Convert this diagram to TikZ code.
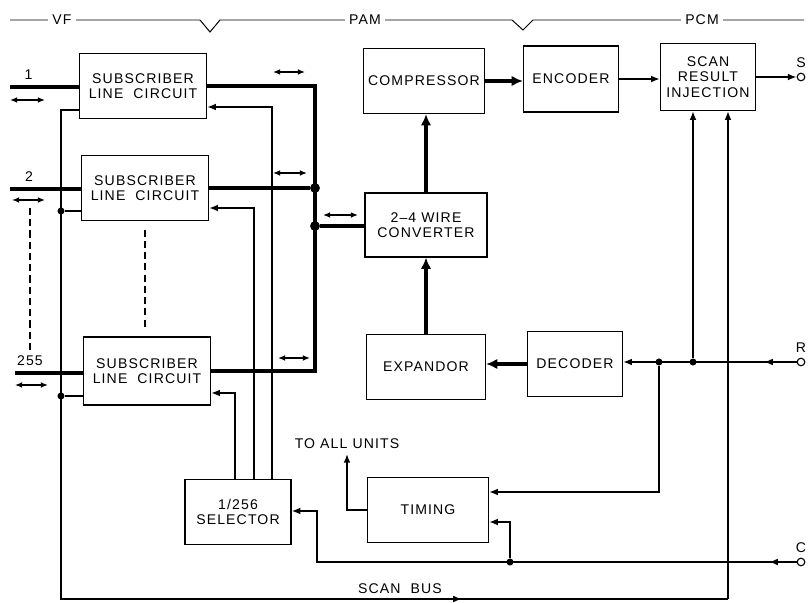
\documentclass[tikz,border=0pt]{standalone}
\usepackage{fontspec}
\setmainfont{Liberation Sans}[LetterSpace=8]
\usetikzlibrary{arrows.meta}

\begin{document}
\begin{tikzpicture}[x=0.025cm, y=-0.025cm,
    font=\fontsize{10}{11}\selectfont,
    block/.style={draw, rectangle, line width=0.8pt, align=center, minimum height=1.625cm, inner sep=2pt},
    sig/.style={line width=1.2pt},
    bus/.style={line width=3.3pt},
    arr/.style={-{Latex[length=2.2mm, width=1.7mm]}},
    barr/.style={-{Latex[length=2.8mm, width=2.6mm]}},
    twoway/.style={line width=1.1pt, {Latex[length=1.8mm, width=1.5mm]}-{Latex[length=1.8mm, width=1.5mm]}},
    jdot/.style={circle, fill, inner sep=0pt, minimum size=5pt},
    bdot/.style={circle, fill, inner sep=0pt, minimum size=7pt},
    term/.style={circle, draw, line width=0.8pt, fill=white, inner sep=0pt, minimum size=1.9mm}]
    \useasboundingbox (0,0) rectangle (812,603);

    % Signal ranges
    \draw[line width=0.7pt] (10,20) -- (200,20) -- (210,32) -- (220,20) -- (512,20) -- (523,30) -- (533,20) -- (804,20);
    \node[fill=white, inner sep=3pt] (vf) at (62,20) {VF};
    \node[fill=white, inner sep=3pt] (pam) at (365,20) {PAM};
    \node[fill=white, inner sep=3pt] (pcm) at (702,20) {PCM};

    % Subscriber line circuits
    \node[block, minimum width=3.175cm] (slc1) at (143,86) {SUBSCRIBER\\LINE\ \ CIRCUIT};
    \node[block, minimum width=3.175cm] (slc2) at (145,188) {SUBSCRIBER\\LINE\ \ CIRCUIT};
    \node[block, minimum width=3.175cm, minimum height=1.7cm] (slc3) at (147,371) {SUBSCRIBER\\LINE\ \ CIRCUIT};

    % Selector and timing
    \node[block, minimum width=2.65cm] (sel) at (238,512) {1/256\\SELECTOR};
    \node[block, minimum width=3.025cm] (tim) at (428,510) {TIMING};
    \node (units) at (347,444) {TO ALL UNITS};

    % PAM and PCM blocks
    \node[block, minimum width=3.025cm] (comp) at (424,81) {COMPRESSOR};
    \node[block, minimum width=3.05cm, minimum height=1.6cm] (conv) at (426,225) {2--4 WIRE\\CONVERTER};
    \node[block, minimum width=2.975cm] (exp) at (426,367) {EXPANDOR};
    \node[block, minimum width=2.375cm, minimum height=1.65cm] (enc) at (571,79) {ENCODER};
    \node[block, minimum width=2.375cm] (dec) at (575,364) {DECODER};
    \node[block, minimum width=2.375cm, minimum height=1.675cm] (sri) at (708,77) {SCAN\\RESULT\\INJECTION};

    % Terminals
    \node[term, label=above:S] (ts) at (801,77) {};
    \node[term, label=above:R] (tr) at (801,362) {};
    \node[term, label=above:C] (tc) at (801,562) {};

    % Subscriber lines
    \coordinate (in1) at (10,87);
    \coordinate (in2) at (10,189);
    \coordinate (in3) at (15,373);
    \draw[bus] (in1) -- (in1 -| slc1.west) node[pos=0.27, above] {1};
    \draw[bus] (in2) -- (in2 -| slc2.west) node[pos=0.27, above] {2};
    \draw[bus] (in3) -- (in3 -| slc3.west) node[pos=0.22, above] {255};
    \draw[twoway] (10,100) -- (45,100);
    \draw[twoway] (12,200) -- (45,200);
    \draw[twoway] (15,385) -- (48,385);
    \draw[line width=0.8pt, dash pattern=on 5pt off 3pt] (30,208) -- (30,352);
    \draw[line width=0.8pt, dash pattern=on 5pt off 3pt, shorten <=6pt, shorten >=6pt] (slc2.south) -- (slc2.south |- slc3.north);

    % 2-wire bus to converter
    \draw[bus] (slc1.east) -| (315,0 |- slc3.east) -- (slc3.east);
    \node[bdot] (jb) at (315,188) {};
    \node[bdot] (jc) at (315,226) {};
    \draw[bus] (slc2.east) -- (jb);
    \draw[bus] (jc) -- (conv.west |- jc);
    \draw[twoway] (273,72) -- (305,72);
    \draw[twoway] (273,173) -- (307,173);
    \draw[twoway] (278,358) -- (310,358);
    \draw[twoway] (323,215) -- (358,215);

    % PAM / PCM paths
    \draw[bus, barr] (conv.north) -- (conv.north |- comp.south);
    \draw[bus, barr] (exp.north) -- (exp.north |- conv.south);
    \draw[bus, barr] (comp.east) -- (comp.east -| enc.west);
    \draw[bus, barr] (dec.west) -- (dec.west -| exp.east);
    \draw[sig, arr] (enc.east) -- (enc.east -| sri.west);
    \draw[sig, arr] (sri.east) -- (ts);

    % Receive side
    \node[jdot] (jr1) at (659,362) {};
    \node[jdot] (jr2) at (693,362) {};
    \draw[sig, arr] (tr) -- (tr -| dec.east);
    \draw[sig, arr] (tr) -- (764,362);
    \draw[sig, arr] (jr2) -- (jr2 |- sri.south);
    \draw[sig, arr] (jr1) |- (tim.east |- 0,492);

    % Clock
    \node[jdot] (jk) at (510,562) {};
    \draw[sig, arr] (tc) -- (317,562) |- (sel.east |- 0,511);
    \draw[sig, arr] (tc) -- (769,562);
    \draw[sig, arr] (jk) |- (tim.east |- 0,522);
    \draw[sig, arr] (tim.west) -| (units.south);

    % Selector outputs
    \draw[sig, arr] (235,0 |- sel.north) |- (slc3.east |- 0,393);
    \draw[sig, arr] (254,0 |- sel.north) |- (slc2.east |- 0,208);
    \draw[sig, arr] (272,0 |- sel.north) |- (slc1.east |- 0,107);

    % Scan bus
    \coordinate (bl) at (61,599);
    \coordinate (br) at (728,599);
    \node[jdot] (j2) at (61,211) {};
    \node[jdot] (j3) at (61,396) {};
    \draw[sig] (slc1.west |- 0,110) -| (bl) -- (br);
    \draw[sig] (j2) -- (slc2.west |- j2);
    \draw[sig] (j3) -- (slc3.west |- j3);
    \draw[sig, arr] (bl) -- (462,599);
    \draw[sig, arr] (br) -- (br |- sri.south);
    \node (scanbus) at (400,589) {SCAN\ \ BUS};
\end{tikzpicture}
\end{document}
